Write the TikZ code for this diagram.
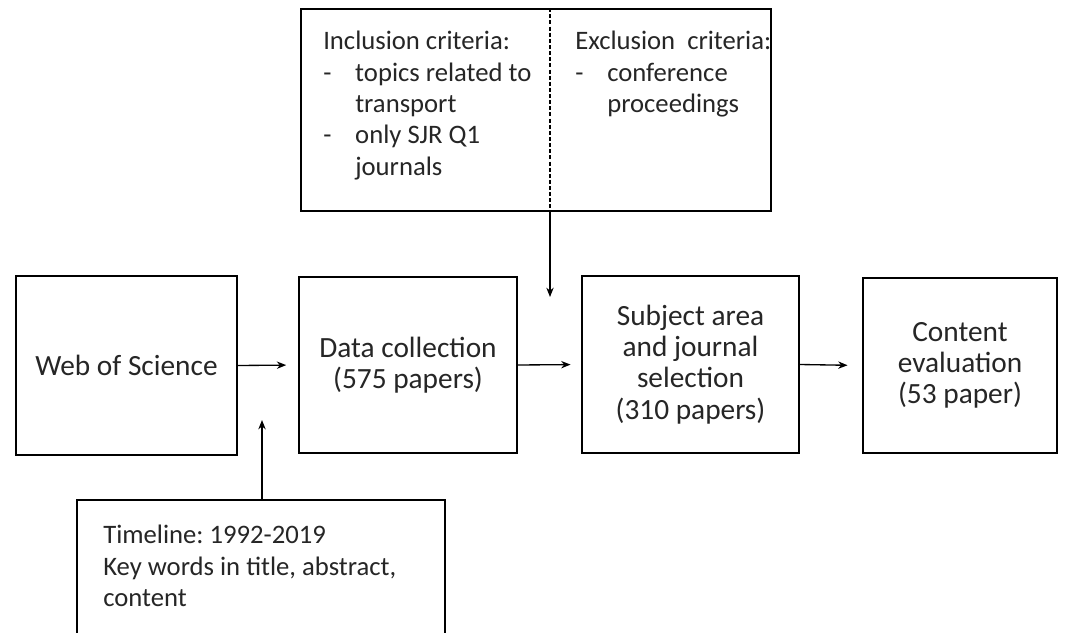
\documentclass[tikz,border=0pt]{standalone}
\usepackage{fontspec}
\setmainfont{Carlito}
\usetikzlibrary{arrows.meta,calc}
\newcommand\dashitem[1]{\makebox[24pt][l]{-}#1}
\newcommand\contitem[1]{\hspace*{24pt}#1}
\frenchspacing
\begin{document}
\begin{tikzpicture}[x=0.75pt,y=-0.75pt,
  box/.style={draw=black, line width=1.2pt, inner sep=0pt, align=center,
    text=black!85, font=\fontsize{22}{23.5}\selectfont},
  txt/.style={inner sep=0pt, align=left, text=black!85,
    font=\fontsize{20}{23.5}\selectfont},
  arr/.style={-{Stealth[length=7pt,width=5.5pt]}, line width=1pt},
  divider/.style={line width=0.9pt, dash pattern=on 3pt off 1.6pt}]
\clip (0,0) rectangle (1066,632);
\fill[white] (0,0) rectangle (1066,632);

\node[box, minimum width=165.75pt, minimum height=134.25pt] (wos) at (126.5,365.5) {Web of Science};
\node[box, minimum width=163.5pt, minimum height=132pt] (dc) at (408,365) {Data collection\\(575 papers)};
\node[box, minimum width=162.75pt, minimum height=132.75pt] (subj) at (690.5,364.5) {Subject area\\and journal\\selection\\(310 papers)};
\node[box, minimum width=145.5pt, minimum height=131.25pt] (cont) at (960,365.5) {Content\\evaluation\\(53 paper)};

\node[box, minimum width=352.5pt, minimum height=151.5pt] (crit) at (536,110) {};
\coordinate (downTip) at (550,297);
\draw[divider] (crit.north -| downTip) -- (crit.south -| downTip);
\node[txt, anchor=north west] (inc) at (323,31) {Inclusion criteria:\\\dashitem{topics related to}\\\contitem{transport}\\\dashitem{only SJR Q1}\\\contitem{journals}};
\node[txt, anchor=north west] (exc) at (575,31) {Exclusion\ \ criteria:\\\dashitem{conference}\\\contitem{proceedings}};

\node[box, minimum width=276pt, minimum height=108.75pt] (tl) at (261,572.5) {};
\node[txt, anchor=north west] (tltext) at (103,525) {Timeline: 1992-2019\\Key words in title, abstract,\\content};
\coordinate (upTip) at (262,420);

\draw[arr, shorten >=9pt] (wos.east) -- (dc.west);
\draw[arr, shorten >=8pt] (dc.east) -- (subj.west);
\draw[arr, shorten >=11pt] (subj.east) -- (cont.west);
\draw[arr] (crit.south -| downTip) -- (downTip);
\draw[arr] (tl.north -| upTip) -- (upTip);
\end{tikzpicture}
\end{document}
